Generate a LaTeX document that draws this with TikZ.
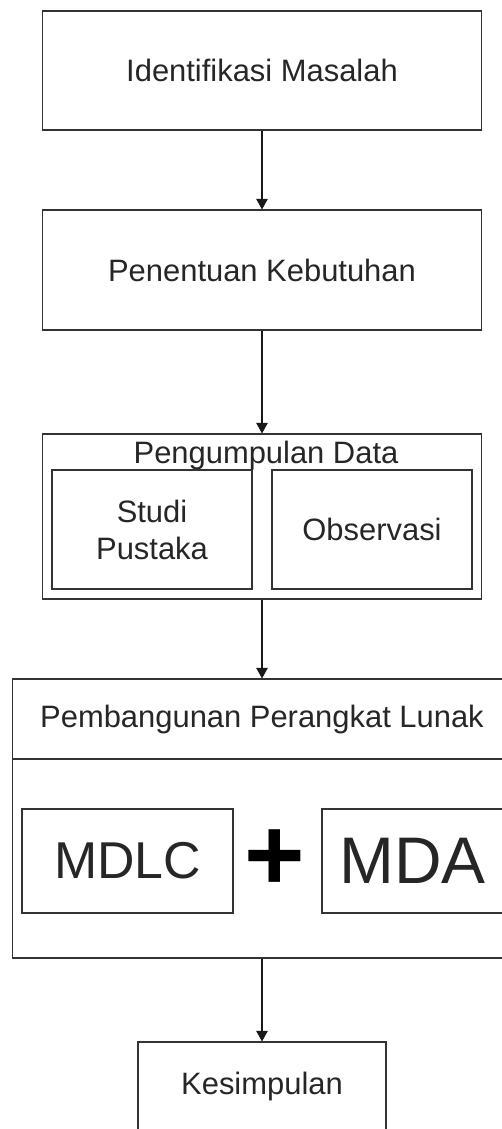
\documentclass[tikz,border=0pt]{standalone}
\usepackage{fontspec}
\setmainfont{Liberation Sans}
\usetikzlibrary{positioning,arrows.meta}

\begin{document}
\begin{tikzpicture}[x=0.02cm,y=-0.02cm]
\tikzset{B/.style={rectangle,draw=black!80,line width=0.6pt,inner sep=0pt,text=black!85,font=\fontsize{17.6}{21}\selectfont,align=center}}
\tikzset{T/.style={inner sep=0pt,text=black!85,font=\fontsize{17.6}{21}\selectfont}}
\tikzset{A/.style={-{Triangle[width=6.5pt,length=6pt]},line width=0.6pt,black!90}}

  \useasboundingbox (0,0) rectangle (501,1129);

  \node[B,minimum width=8.8cm,minimum height=2.38cm] (im) at (262,70.5) {Identifikasi Masalah};
  \node[B,minimum width=8.8cm,minimum height=2.4cm] (pk) at (262,270) {Penentuan Kebutuhan};
  \node[B,minimum width=8.8cm,minimum height=3.3cm] (pd) at (262,516.5) {};
  \node[T,anchor=base] (pdt) at (266,463) {Pengumpulan Data};
  \node[B,minimum width=4cm,minimum height=2.38cm] (sp) at (152,529.5) {Studi\\Pustaka};
  \node[B,minimum width=4cm,minimum height=2.38cm] (ob) at (372,529.5) {Observasi};

  \node[B,minimum width=10cm,minimum height=5.58cm] (pl) at (262,818.5) {};
  \node[B,minimum width=10cm,minimum height=1.6cm] (plt) at (262,719) {Pembangunan Perangkat Lunak};
  \node[B,minimum width=4.22cm,minimum height=2.08cm,font=\fontsize{29.5}{34}\selectfont] (mdlc) at (127.5,861) {MDLC};
  \node[T,font=\fontsize{59}{64}\selectfont\bfseries,text=black] (plus) at (274.5,860.5) {+};
  \node[B,minimum width=3.62cm,minimum height=2.08cm,font=\fontsize{37.5}{42}\selectfont] (mda) at (412.5,861) {MDA};

  \node[B,minimum width=4.96cm,minimum height=1.78cm] (ks) at (262,1086.5) {Kesimpulan};

  \draw[A] (im) -- (pk);
  \draw[A] (pk) -- (pd);
  \draw[A] (pd) -- (plt);
  \draw[A] (pl) -- (ks);
\end{tikzpicture}
\end{document}
